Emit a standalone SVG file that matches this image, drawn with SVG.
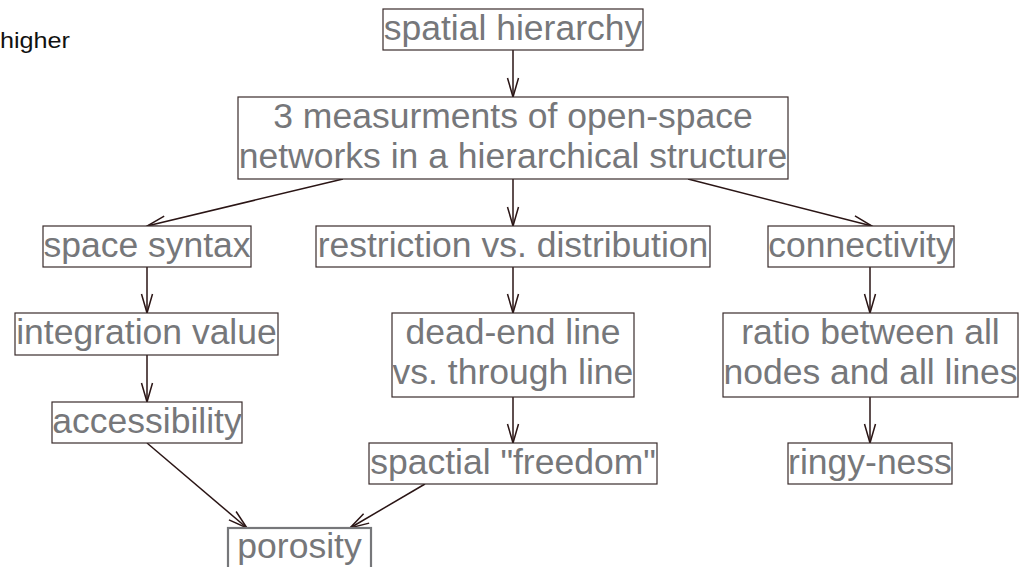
<svg xmlns="http://www.w3.org/2000/svg" width="1026" height="567" viewBox="0 0 1026 567">
<style>
.box{fill:#fff;stroke:#3a2c2c;stroke-width:1.2}
.t{font-family:"Liberation Sans",Arial,sans-serif;font-size:35.5px;fill:#76777a;text-anchor:middle}
.c{fill:none;stroke:#2a1515;stroke-width:1.5}
</style>
<defs>
<marker id="ah" markerUnits="userSpaceOnUse" markerWidth="22" markerHeight="20" viewBox="-20 -10 22 20" refX="0" refY="0" orient="auto" overflow="visible">
<path d="M-19,-5.5 L0,0 L-19,5.5" fill="none" stroke="#2a1515" stroke-width="1.5"/>
</marker>
</defs>
<rect width="1026" height="567" fill="#fff"/>
<text x="0" y="48" font-family="Liberation Sans,Arial,sans-serif" font-size="22" fill="#111" textLength="70" lengthAdjust="spacingAndGlyphs">higher</text>
<g id="connectors">
<line class="c" x1="513" y1="50" x2="513" y2="97" marker-end="url(#ah)"/>
<line class="c" x1="343" y1="179" x2="147" y2="226" marker-end="url(#ah)"/>
<line class="c" x1="513" y1="179" x2="513" y2="226" marker-end="url(#ah)"/>
<line class="c" x1="688" y1="179" x2="872" y2="226" marker-end="url(#ah)"/>
<line class="c" x1="147" y1="267" x2="147" y2="313" marker-end="url(#ah)"/>
<line class="c" x1="513" y1="267" x2="513" y2="313" marker-end="url(#ah)"/>
<line class="c" x1="870" y1="267" x2="870" y2="313" marker-end="url(#ah)"/>
<line class="c" x1="147" y1="355" x2="147" y2="402" marker-end="url(#ah)"/>
<line class="c" x1="513" y1="397" x2="513" y2="443" marker-end="url(#ah)"/>
<line class="c" x1="870" y1="397" x2="870" y2="443" marker-end="url(#ah)"/>
<line class="c" x1="147" y1="443" x2="247" y2="528" marker-end="url(#ah)"/>
<line class="c" x1="425" y1="484" x2="350" y2="528" marker-end="url(#ah)"/>
</g>
<g id="n-spatial-hierarchy"><rect class="box" x="383" y="9" width="260" height="41"/><text class="t" x="513" y="40">spatial hierarchy</text></g>
<g id="n-measurements"><rect class="box" x="238" y="97" width="550" height="82"/><text class="t" x="513" y="128">3 measurments of open-space</text><text class="t" x="513" y="168">networks in a hierarchical structure</text></g>
<g id="n-space-syntax"><rect class="box" x="43" y="226" width="208" height="41"/><text class="t" x="147" y="257">space syntax</text></g>
<g id="n-restriction"><rect class="box" x="316" y="226" width="394" height="41"/><text class="t" x="513" y="257">restriction vs. distribution</text></g>
<g id="n-connectivity"><rect class="box" x="768" y="226" width="186" height="41"/><text class="t" x="861" y="257">connectivity</text></g>
<g id="n-integration"><rect class="box" x="15" y="313" width="263" height="42"/><text class="t" x="146.5" y="344">integration value</text></g>
<g id="n-dead-end"><rect class="box" x="392" y="313" width="242" height="84"/><text class="t" x="513" y="344">dead-end line</text><text class="t" x="513" y="384">vs. through line</text></g>
<g id="n-ratio"><rect class="box" x="723" y="313" width="295" height="84"/><text class="t" x="870.5" y="344">ratio between all</text><text class="t" x="870.5" y="384">nodes and all lines</text></g>
<g id="n-accessibility"><rect class="box" x="52" y="402" width="190" height="41"/><text class="t" x="147" y="433">accessibility</text></g>
<g id="n-freedom"><rect class="box" x="369" y="443" width="288" height="41"/><text class="t" x="513" y="474">spactial "freedom"</text></g>
<g id="n-ringy"><rect class="box" x="788" y="443" width="164" height="41"/><text class="t" x="870" y="474">ringy-ness</text></g>
<g id="n-porosity"><rect x="228" y="528" width="143" height="60" fill="#fff" stroke="#76777a" stroke-width="2.2"/><text class="t" x="299.5" y="558">porosity</text></g>
</svg>
